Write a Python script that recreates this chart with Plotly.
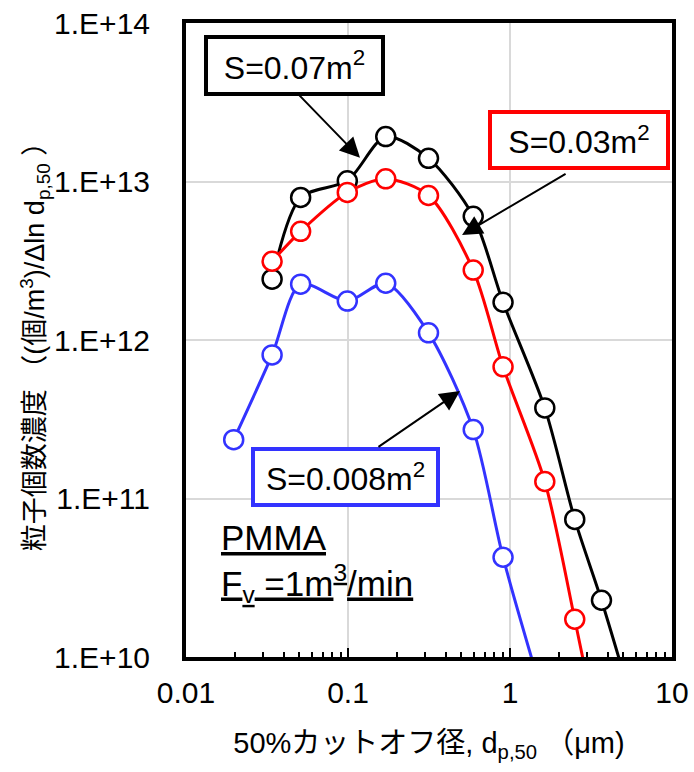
import math
import plotly.graph_objects as go

# ---- data ----
x_black = [0.034, 0.051, 0.099, 0.171, 0.314, 0.593, 0.906, 1.64, 2.51, 3.67]
y_black = [2.42e12, 7.93e12, 1.01e13, 1.92e13, 1.40e13, 6.03e12, 1.73e12, 3.73e11, 7.38e10, 2.28e10]
x_black_tail = [5.77]
y_black_tail = [4.85e9]

x_red = [0.034, 0.051, 0.099, 0.171, 0.314, 0.593, 0.906, 1.64, 2.51]
y_red = [3.14e12, 4.85e12, 8.53e12, 1.04e13, 8.16e12, 2.76e12, 6.77e11, 1.28e11, 1.73e10]
x_red_tail = [3.27]
y_red_tail = [4.7e9]

x_blue = [0.0197, 0.034, 0.051, 0.099, 0.171, 0.314, 0.593, 0.906]
y_blue = [2.35e11, 8.05e11, 2.25e12, 1.76e12, 2.28e12, 1.11e12, 2.72e11, 4.26e10]
x_blue_tail = [1.62]
y_blue_tail = [5.37e9]

x_tickvals = [0.01, 0.1, 1, 10]
x_ticktext = ["0.01", "0.1", "1", "10"]
y_tickvals = [1e10, 1e11, 1e12, 1e13, 1e14]
y_ticktext = ["1.E+10", "1.E+11", "1.E+12", "1.E+13", "1.E+14"]

labels = ["S=0.07m<sup>2</sup>", "S=0.03m<sup>2</sup>", "S=0.008m<sup>2</sup>"]

# arrow tips (data values on the curves)
arrow_tip_x = [0.1186, 0.506, 0.491]
arrow_tip_y = [1.41e13, 4.6e12, 4.77e11]

BLACK = "#000000"
RED = "#FF0000"
BLUE = "#3333FF"
FONT = "Arial, 'Liberation Sans', 'Noto Sans CJK JP', sans-serif"

fig = go.Figure()

series = [
    (x_black, y_black, x_black_tail, y_black_tail, BLACK),
    (x_red, y_red, x_red_tail, y_red_tail, RED),
    (x_blue, y_blue, x_blue_tail, y_blue_tail, BLUE),
]
for xs, ys, xt, yt, col in series:
    fig.add_trace(go.Scatter(
        x=xs + xt, y=ys + yt, mode="lines",
        line=dict(color=col, width=3, shape="spline", smoothing=0.8),
        hoverinfo="skip", showlegend=False))
    fig.add_trace(go.Scatter(
        x=xs, y=ys, mode="markers",
        marker=dict(symbol="circle", size=19, color="white",
                    line=dict(color=col, width=2.5)),
        showlegend=False))

fig.update_xaxes(
    type="log", range=[-2, 1], automargin=False,
    tickvals=x_tickvals, ticktext=x_ticktext,
    ticks="inside", ticklen=9, tickwidth=2, tickcolor="black",
    minor=dict(ticks="inside", ticklen=5, tickwidth=2, tickcolor="black",
               tickvals=[m * 10 ** e for e in (-2, -1, 0) for m in range(2, 10)],
               showgrid=False),
    showgrid=True, gridcolor="#D9D9D9", gridwidth=1.5,
    showline=True, linecolor="black", linewidth=4, mirror=True,
    tickfont=dict(size=30, color="black", family=FONT),
    ticklabelstandoff=6,
    title=dict(text="50%カットオフ径, d<sub>p,50</sub> （μm)",
               font=dict(size=29, color="black", family=FONT), standoff=26),
    zeroline=False,
)
fig.update_yaxes(
    type="log", range=[10, 14], automargin=False,
    tickvals=y_tickvals, ticktext=y_ticktext,
    ticks="",
    showgrid=True, gridcolor="#D9D9D9", gridwidth=1.5,
    showline=True, linecolor="black", linewidth=4, mirror=True,
    tickfont=dict(size=30, color="black", family=FONT),
    ticklabelstandoff=26,
    title=dict(text="粒子個数濃度 （(個/m<sup>3</sup>)/Δln d<sub>p,50</sub> ）",
               font=dict(size=27, color="black", family=FONT), standoff=2),
    zeroline=False,
)

# label boxes (paper coordinates)
boxes = [
    (labels[0], 0.224, 0.933, BLACK, 173, 53),
    (labels[1], 0.808, 0.815, RED, 174, 52),
    (labels[2], 0.328, 0.284, BLUE, 181, 52),
]
for txt, bx, by, col, w, h in boxes:
    fig.add_annotation(
        text=txt, xref="paper", yref="paper", x=bx, y=by,
        xanchor="center", yanchor="middle", showarrow=False,
        font=dict(size=32, color="black", family=FONT),
        bgcolor="white", bordercolor=col, borderwidth=4, borderpad=0,
        width=w, height=h, align="center", valign="middle")

# arrows (tip on the curve, tail offset in pixels toward the box)
arrow_offsets = [(-63, -65), (105, -62), (-83, 57)]
for tx, ty, (dx, dy) in zip(arrow_tip_x, arrow_tip_y, arrow_offsets):
    fig.add_annotation(
        x=math.log10(tx), y=math.log10(ty), xref="x", yref="y", ax=dx, ay=dy,
        text="", showarrow=True,
        arrowhead=2, arrowsize=2.0, arrowwidth=2, arrowcolor="black")

fig.add_annotation(
    text="<u>PMMA</u><br><u>F<sub>v</sub> =1m<sup>3</sup>/min</u>",
    xref="paper", yref="paper", x=0.068, y=0.222,
    xanchor="left", yanchor="top", showarrow=False, align="left",
    font=dict(size=35, color="black", family=FONT))

fig.update_layout(
    width=694, height=772,
    margin=dict(l=186, r=22, t=23, b=115),
    paper_bgcolor="white", plot_bgcolor="white",
    font=dict(family=FONT, color="black"),
)

fig.write_html("out.html",
               config={"displayModeBar": False},
               post_script="document.body.style.margin='0px';document.body.style.overflow='hidden';")
